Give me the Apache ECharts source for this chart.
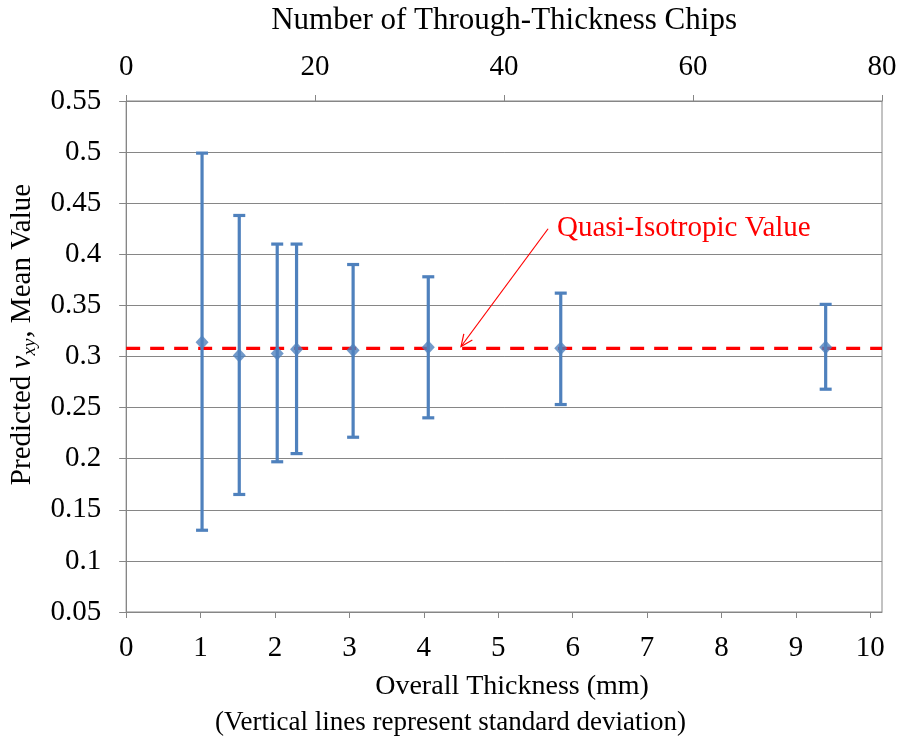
<!DOCTYPE html>
<html>
<head>
<meta charset="utf-8">
<script src="https://cdn.jsdelivr.net/npm/echarts@6/dist/echarts.min.js"></script>
<style>
  html, body { margin: 0; padding: 0; background: #ffffff; }
  #chart { width: 901px; height: 738px; }
</style>
</head>
<body>
<div id="chart"></div>
<script>
// Laminate thickness (mm) of each tested configuration
const thickness = [1.02, 1.52, 2.03, 2.29, 3.05, 4.06, 5.84, 9.40];
// Predicted in-plane Poisson's ratio: mean and mean ± one standard deviation
const meanNu  = [0.314, 0.301, 0.303, 0.307, 0.306, 0.309, 0.308, 0.309];
const upperNu = [0.499, 0.438, 0.410, 0.410, 0.390, 0.378, 0.362, 0.351];
const lowerNu = [0.130, 0.165, 0.197, 0.205, 0.221, 0.240, 0.253, 0.268];
// Reference quasi-isotropic value
const quasiIsoValue = 0.308;
// Axis ranges
const thicknessRange = [0, 10.157];
const chipsRange = [0, 80];
const nuRange = [0.05, 0.55];
// Annotation: label anchor and arrow (data coordinates)
const noteText = 'Quasi-Isotropic Value';
const noteAnchor = [5.79, 0.425];
const arrowFrom = [5.67, 0.425];
const arrowTo = [4.50, 0.3098];

const FONT = '"Liberation Serif", "Times New Roman", serif';
const AXIS_GRAY = '#868686';
const BLUE = '#4F81BD';
const RED = '#FF0000';

const chart = echarts.init(document.getElementById('chart'), null, { renderer: 'canvas' });

const errorData = thickness.map((t, i) => [t, lowerNu[i], upperNu[i]]);
const meanData = thickness.map((t, i) => [t, meanNu[i]]);

const option = {
  backgroundColor: '#ffffff',
  animation: false,
  grid: {
    left: 125, right: 19, top: 99, bottom: 126,
    show: true, borderColor: AXIS_GRAY, borderWidth: 1, backgroundColor: 'transparent'
  },
  xAxis: [
    {
      type: 'value', position: 'bottom',
      min: thicknessRange[0], max: thicknessRange[1], interval: 1,
      name: 'Overall Thickness (mm)', nameLocation: 'middle', nameGap: 61,
      nameTextStyle: { fontFamily: FONT, fontSize: 28, color: '#000', padding: [0, 0, 0, 16] },
      axisLine: { show: true, onZero: false, lineStyle: { color: AXIS_GRAY, width: 1 } },
      axisTick: { show: true, length: 6, lineStyle: { color: AXIS_GRAY } },
      axisLabel: {
        fontFamily: FONT, fontSize: 29, color: '#000', margin: 22, showMaxLabel: false,
        formatter: v => (Math.abs(v - Math.round(v)) < 1e-6 ? String(Math.round(v)) : '')
      },
      splitLine: { show: false }
    },
    {
      type: 'value', position: 'top',
      min: chipsRange[0], max: chipsRange[1], interval: 20,
      name: 'Number of Through-Thickness Chips', nameLocation: 'middle', nameGap: 65,
      nameTextStyle: { fontFamily: FONT, fontSize: 31, color: '#000' },
      axisLine: { show: true, onZero: false, lineStyle: { color: AXIS_GRAY, width: 1 } },
      axisTick: { show: true, length: 6, lineStyle: { color: AXIS_GRAY } },
      axisLabel: { fontFamily: FONT, fontSize: 29, color: '#000', margin: 19 },
      splitLine: { show: false }
    }
  ],
  yAxis: {
    type: 'value',
    min: nuRange[0], max: nuRange[1], interval: 0.05,
    name: '{a|Predicted }{v|ν}{s|xy}{a|, Mean Value}',
    nameLocation: 'middle', nameRotate: 90, nameGap: 82,
    nameTextStyle: {
      fontFamily: FONT, fontSize: 29, color: '#000', padding: [0, 0, 0, 44],
      rich: {
        a: { fontFamily: FONT, fontSize: 29, color: '#000', lineHeight: 34 },
        v: { fontFamily: FONT, fontSize: 29, fontStyle: 'italic', color: '#000', lineHeight: 34 },
        s: { fontFamily: FONT, fontSize: 19, fontStyle: 'italic', color: '#000', lineHeight: 19, verticalAlign: 'bottom', padding: [0, 1, 0, 0] }
      }
    },
    axisLine: { show: true, lineStyle: { color: AXIS_GRAY, width: 1 } },
    axisTick: { show: true, length: 7, lineStyle: { color: AXIS_GRAY } },
    axisLabel: { fontFamily: FONT, fontSize: 29, color: '#000', margin: 25,
      formatter: v => String(+v.toFixed(2)) },
    splitLine: { show: true, lineStyle: { color: AXIS_GRAY, width: 1 } }
  },
  graphic: [
    {
      type: 'text', left: 'center', top: 709,
      style: {
        text: '(Vertical lines represent standard deviation)',
        font: '27px ' + FONT, fill: '#000', textAlign: 'center'
      }
    }
  ],
  series: [
    {
      // quasi-isotropic reference line
      type: 'line', xAxisIndex: 0, yAxisIndex: 0,
      data: [[thicknessRange[0], quasiIsoValue], [thicknessRange[1], quasiIsoValue]],
      symbol: 'none', silent: true, z: 2,
      lineStyle: { color: RED, width: 3.2, type: [14, 10] }
    },
    {
      // standard deviation bars with caps
      type: 'custom', xAxisIndex: 0, yAxisIndex: 0,
      data: errorData, encode: { x: 0, y: [1, 2] }, z: 3,
      renderItem: (params, api) => {
        const x = api.value(0);
        const lo = api.coord([x, api.value(1)]);
        const hi = api.coord([x, api.value(2)]);
        const hw = 6;
        const st = { stroke: BLUE, lineWidth: 3.2 };
        return {
          type: 'group',
          children: [
            { type: 'line', shape: { x1: lo[0], y1: lo[1], x2: hi[0], y2: hi[1] }, style: st },
            { type: 'line', shape: { x1: hi[0] - hw, y1: hi[1], x2: hi[0] + hw, y2: hi[1] }, style: st },
            { type: 'line', shape: { x1: lo[0] - hw, y1: lo[1], x2: lo[0] + hw, y2: lo[1] }, style: st }
          ]
        };
      }
    },
    {
      // mean values
      type: 'scatter', xAxisIndex: 0, yAxisIndex: 0,
      data: meanData, symbol: 'diamond', symbolSize: [13, 14], z: 4,
      itemStyle: { color: BLUE }
    },
    {
      // annotation: label with arrow pointing at the reference line
      type: 'custom', xAxisIndex: 0, yAxisIndex: 0, z: 5, silent: true,
      data: [[arrowFrom[0], arrowFrom[1], arrowTo[0], arrowTo[1], noteAnchor[0], noteAnchor[1]]],
      renderItem: (params, api) => {
        const p0 = api.coord([api.value(0), api.value(1)]);
        const p1 = api.coord([api.value(2), api.value(3)]);
        const pt = api.coord([api.value(4), api.value(5)]);
        const ang = Math.atan2(p1[1] - p0[1], p1[0] - p0[0]);
        const len = 13, spread = 0.42;
        const h1 = [p1[0] - len * Math.cos(ang - spread), p1[1] - len * Math.sin(ang - spread)];
        const h2 = [p1[0] - len * Math.cos(ang + spread), p1[1] - len * Math.sin(ang + spread)];
        const st = { stroke: RED, lineWidth: 1.2, fill: null };
        return {
          type: 'group',
          children: [
            { type: 'line', shape: { x1: p0[0], y1: p0[1], x2: p1[0], y2: p1[1] }, style: st },
            { type: 'polyline', shape: { points: [h1, p1, h2] }, style: st },
            { type: 'text', x: pt[0], y: pt[1],
              style: { text: noteText, font: '29px ' + FONT, fill: RED, textAlign: 'left', textVerticalAlign: 'middle' } }
          ]
        };
      }
    }
  ]
};

chart.setOption(option);
</script>
</body>
</html>
